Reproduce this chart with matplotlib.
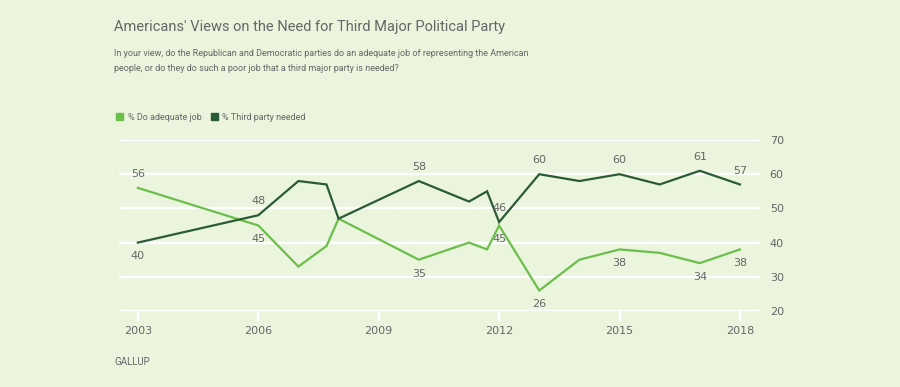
import matplotlib.pyplot as plt
from matplotlib.patches import Patch

# survey dates (decimal years) and percentages
years = [2003, 2006, 2007, 2007.7, 2008, 2010, 2011.25, 2011.7, 2012,
         2013, 2014, 2015, 2016, 2017, 2018]
adequate = [56, 45, 33, 39, 47, 35, 40, 38, 45, 26, 35, 38, 37, 34, 38]
third_party = [40, 48, 58, 57, 47, 58, 52, 55, 46, 60, 58, 60, 57, 61, 57]

# which points get a value label, and whether above (+1) or below (-1)
adequate_labels = {0: 1, 1: -1, 5: -1, 8: -1, 9: -1, 11: -1, 13: -1, 14: -1}
third_labels = {0: -1, 1: 1, 5: 1, 8: 1, 9: 1, 11: 1, 13: 1, 14: 1}

xticks = [2003, 2006, 2009, 2012, 2015, 2018]
yticks = [20, 30, 40, 50, 60, 70]

bg = '#ebf5dd'
light = '#6abf4b'
dark = '#2b5a36'
grey = '#666666'
txtfont = ['Roboto', 'DejaVu Sans']

fig = plt.figure(figsize=(9, 3.87), dpi=100, facecolor=bg)
ax = fig.add_axes([119 / 900, 1 - 311 / 387, (760 - 119) / 900, (311 - 140) / 387])
ax.set_facecolor(bg)

ax.plot(years, adequate, color=light, lw=1.6, solid_joinstyle='miter', zorder=3)
ax.plot(years, third_party, color=dark, lw=1.6, solid_joinstyle='miter', zorder=3)

for i, d in adequate_labels.items():
    ax.annotate(str(adequate[i]), (years[i], adequate[i]), xytext=(0, 10 * d),
                textcoords='offset points', ha='center', va='center',
                fontsize=8, color=grey)
for i, d in third_labels.items():
    ax.annotate(str(third_party[i]), (years[i], third_party[i]), xytext=(0, 10 * d),
                textcoords='offset points', ha='center', va='center',
                fontsize=8, color=grey)

ax.set_xlim(2002.53, 2018.5)
ax.set_ylim(20, 70)
ax.set_yticks(yticks)
ax.set_xticks(xticks)
ax.yaxis.tick_right()
ax.grid(axis='y', color='white', lw=1.6, zorder=1)
for s in ax.spines.values():
    s.set_visible(False)
ax.tick_params(axis='y', length=0, pad=7, labelsize=8, labelcolor=grey)
ax.tick_params(axis='x', length=7, width=1.6, color='white', pad=4,
               labelsize=8, labelcolor=grey)

fig.text(114 / 900, 1 - 27 / 387, "Americans' Views on the Need for Third Major Political Party",
         fontsize=10.5, color=grey, va='center', family=txtfont)
fig.text(114 / 900, 1 - 61 / 387,
         "In your view, do the Republican and Democratic parties do an adequate job of representing the American\n"
         "people, or do they do such a poor job that a third major party is needed?",
         fontsize=6.5, color=grey, va='center', family=txtfont, linespacing=1.8)

handles = [Patch(color=light, label='% Do adequate job'),
           Patch(color=dark, label='% Third party needed')]
fig.legend(handles=handles, loc='center left', bbox_to_anchor=(108 / 900, 1 - 117 / 387),
           ncol=2, frameon=False, handlelength=0.8, handleheight=0.8,
           handletextpad=0.5, columnspacing=1.0,
           prop={'family': txtfont, 'size': 6.5}, labelcolor=grey)

fig.text(114 / 900, 1 - 362 / 387, 'GALLUP', fontsize=7, color=grey, va='center',
         family=txtfont)

fig.savefig('out.png', dpi=100, facecolor=bg)
